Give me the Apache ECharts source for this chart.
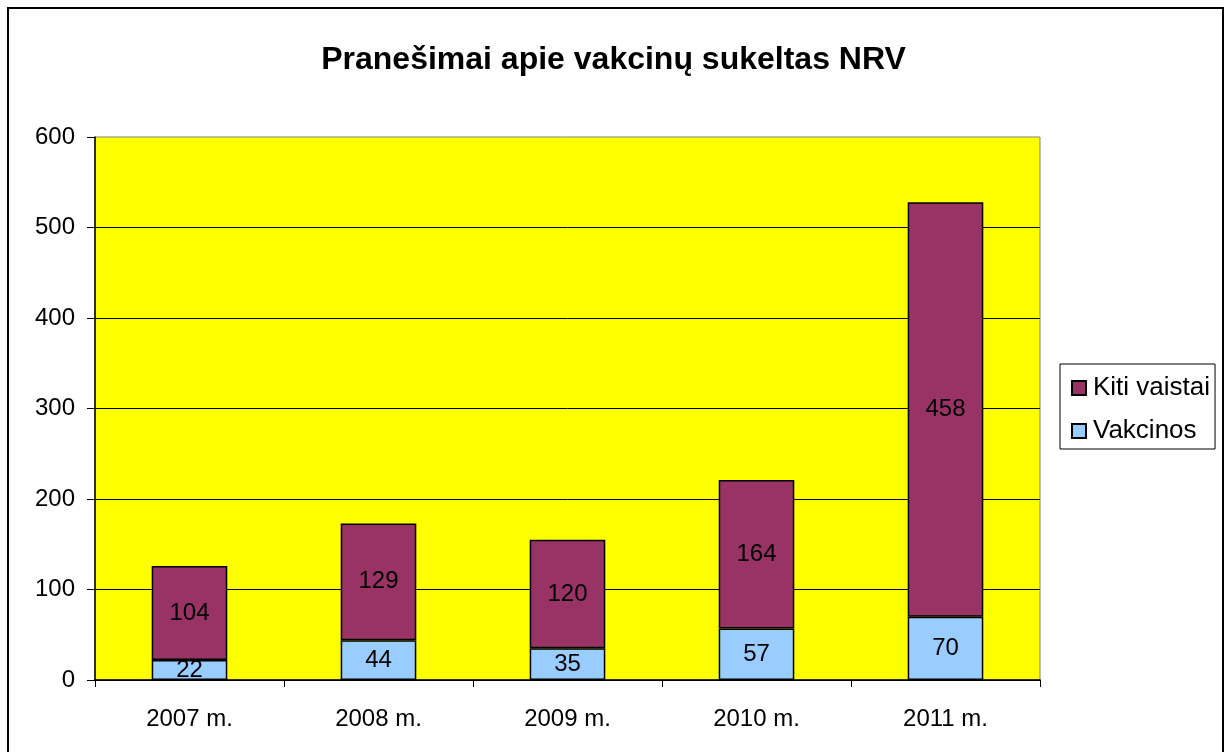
<!DOCTYPE html>
<html>
<head>
<meta charset="utf-8">
<script src="https://cdn.jsdelivr.net/npm/echarts@6/dist/echarts.min.js"></script>
<style>html,body{margin:0;padding:0;background:#fff;}#c{width:1227px;height:752px;}</style>
</head>
<body>
<div id="c"></div>
<script>
const categories = ['2007 m.', '2008 m.', '2009 m.', '2010 m.', '2011 m.'];
const vakcinos = [22, 44, 35, 57, 70];
const kitiVaistai = [104, 129, 120, 164, 458];
const yTicks = { min: 0, max: 600, interval: 100 };

const chart = echarts.init(document.getElementById('c'));
const font = 'Liberation Sans, Arial, sans-serif';
chart.setOption({
  animation: false,
  backgroundColor: '#fff',
  graphic: [{
    type: 'rect', shape: { x: 8, y: 8, width: 1215, height: 760 },
    style: { fill: 'none', stroke: '#000', lineWidth: 2 }, z: 100
  }],
  title: {
    text: 'Pranešimai apie vakcinų sukeltas NRV',
    left: 'center', top: 39,
    textStyle: { fontFamily: font, fontSize: 32, fontWeight: 'bold', color: '#000' }
  },
  grid: {
    left: 95, top: 137, width: 945, height: 543,
    show: true, backgroundColor: '#ffff00', borderColor: '#808080', borderWidth: 1
  },
  legend: {
    orient: 'vertical', left: 1060, top: 364,
    data: ['Kiti vaistai', 'Vakcinos'],
    icon: 'rect', itemWidth: 14, itemHeight: 14, itemGap: 17,
    borderColor: '#000', borderWidth: 1, padding: [11, 5, 5, 11],
    textStyle: { fontFamily: font, fontSize: 26, color: '#000', padding: [0, 0, 0, 2] }
  },
  xAxis: {
    type: 'category', data: categories,
    axisLine: { lineStyle: { color: '#000', width: 1.5 } },
    axisTick: { show: true, length: 7, lineStyle: { color: '#000', width: 1 } },
    axisLabel: { fontFamily: font, fontSize: 24, color: '#000', margin: 27 }
  },
  yAxis: {
    type: 'value', min: yTicks.min, max: yTicks.max, interval: yTicks.interval,
    axisLine: { show: true, lineStyle: { color: '#000', width: 1.5 } },
    axisTick: { show: true, length: 8, lineStyle: { color: '#000', width: 1 } },
    axisLabel: { fontFamily: font, fontSize: 24, color: '#000', margin: 20 },
    splitLine: { show: true, showMaxLine: false, lineStyle: { color: '#000', width: 1 } }
  },
  series: [
    {
      name: 'Vakcinos', type: 'bar', stack: 'a', data: vakcinos, barWidth: '40%',
      itemStyle: { color: '#99ccff', borderColor: '#000', borderWidth: 1.5 },
      label: { show: true, position: 'inside', fontFamily: font, fontSize: 24, color: '#000' }
    },
    {
      name: 'Kiti vaistai', type: 'bar', stack: 'a', data: kitiVaistai, barWidth: '40%',
      itemStyle: { color: '#993366', borderColor: '#000', borderWidth: 1.5 },
      label: { show: true, position: 'inside', fontFamily: font, fontSize: 24, color: '#000' }
    }
  ]
});
</script>
</body>
</html>
